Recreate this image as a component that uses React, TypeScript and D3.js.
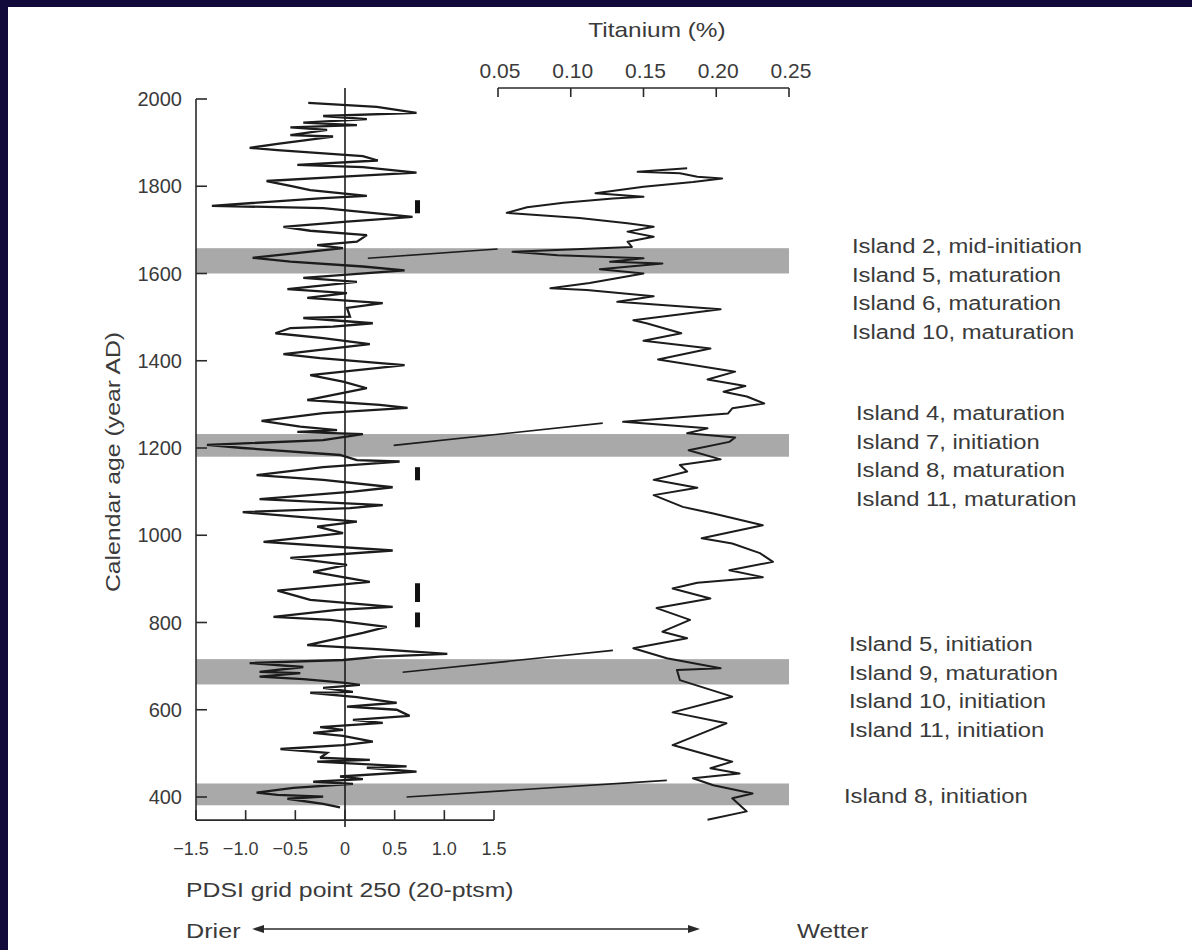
import React from "react";
import * as d3 from "d3";

const W = 1192;
const H = 950;

// PDSI grid point 250 (20-pt smoothed), year AD and value
const pdsiYears = [
  376, 384, 396, 401, 405, 410, 421, 430, 435, 441, 447, 458, 467, 470, 481, 485, 490, 501, 510, 519,
  527, 540, 547, 554, 560, 570, 577, 586, 600, 607, 616, 629, 639, 641, 650, 657, 662, 670, 676, 684,
  687, 698, 707, 714, 722, 728, 739, 748, 776, 790, 806, 813, 829, 836, 852, 873, 893, 916, 932, 948,
  965, 985, 1005, 1020, 1031, 1053, 1062, 1069, 1083, 1100, 1110, 1127, 1138, 1156, 1169, 1172, 1184, 1200, 1207, 1218,
  1232, 1237, 1241, 1249, 1262, 1280, 1292, 1299, 1310, 1337, 1352, 1367, 1390, 1406, 1415, 1438, 1452, 1463, 1475, 1478,
  1486, 1498, 1501, 1521, 1532, 1544, 1555, 1564, 1581, 1590, 1607, 1616, 1627, 1636, 1658, 1665, 1673, 1688, 1698, 1707,
  1719, 1730, 1750, 1755, 1773, 1778, 1791, 1801, 1812, 1822, 1831, 1844, 1849, 1859, 1869, 1883, 1888, 1897, 1914, 1917,
  1929, 1935, 1940, 1946, 1954, 1961, 1968, 1982, 1991,
];
const pdsiValues = [
  -0.05, -0.22, -0.58, -0.22, -0.68, -0.89, -0.52, 0.08, -0.32, 0.18, -0.05, 0.72, 0.22, 0.62, -0.28, 0.25, -0.25, -0.18, -0.65, -0.02,
  0.28, -0.02, -0.32, -0.02, -0.25, 0.38, 0.08, 0.65, 0.52, 0.02, 0.52, 0.12, -0.35, 0.08, -0.22, 0.15, -0.02, -0.42, -0.86, -0.45,
  -0.86, -0.42, -0.96, -0.02, 0.35, 1.03, 0.32, -0.38, 0.18, 0.42, -0.15, -0.72, -0.08, 0.48, -0.35, -0.68, 0.25, -0.32, 0.02, -0.55,
  0.48, -0.82, -0.02, -0.28, 0.12, -1.03, 0.05, 0.38, -0.86, 0.08, 0.48, -0.22, -0.89, -0.22, 0.55, 0.12, -0.05, -1.03, -1.39, -0.22,
  0.18, -0.48, -0.08, -0.45, -0.84, -0.22, 0.63, 0.35, -0.38, 0.22, -0.02, -0.35, 0.6, -0.25, -0.62, 0.25, -0.22, -0.7, -0.55, -0.12,
  0.28, -0.42, 0.05, 0.02, 0.38, -0.38, 0.02, -0.58, 0.12, -0.42, 0.6, 0.18, -0.55, -0.93, -0.02, -0.28, 0.12, 0.22, -0.35, -0.62,
  0.02, 0.68, -0.22, -1.34, -0.22, 0.22, -0.35, -0.55, -0.79, -0.02, 0.72, 0.18, -0.48, 0.33, 0.18, -0.68, -0.96, -0.68, -0.12, -0.55,
  -0.18, -0.55, 0.12, -0.42, 0.22, -0.22, 0.72, 0.32, -0.37,
];

// Titanium (%) record, year AD and value
const tiYears = [
  348, 367, 397, 408, 427, 443, 454, 466, 481, 519, 554, 569, 594, 630, 668, 691, 695, 718, 741, 764,
  779, 806, 833, 855, 878, 891, 904, 920, 939, 959, 981, 993, 1023, 1050, 1065, 1092, 1109, 1127, 1146, 1161,
  1174, 1195, 1214, 1224, 1234, 1245, 1260, 1279, 1291, 1302, 1318, 1329, 1342, 1357, 1375, 1390, 1403, 1428, 1446, 1463,
  1486, 1493, 1518, 1535, 1548, 1562, 1566, 1578, 1600, 1610, 1623, 1627, 1635, 1642, 1650, 1661, 1673, 1684, 1696, 1707,
  1715, 1727, 1739, 1752, 1762, 1772, 1776, 1784, 1799, 1810, 1818, 1822, 1830, 1833, 1841,
];
const tiValues = [
  0.194, 0.221, 0.211, 0.225, 0.198, 0.184, 0.216, 0.196, 0.211, 0.17, 0.196, 0.207, 0.17, 0.211, 0.175, 0.173, 0.203, 0.166, 0.143, 0.18,
  0.163, 0.182, 0.159, 0.196, 0.17, 0.187, 0.232, 0.209, 0.239, 0.23, 0.211, 0.19, 0.232, 0.198, 0.177, 0.157, 0.187, 0.157, 0.18, 0.175,
  0.203, 0.181, 0.209, 0.213, 0.18, 0.194, 0.136, 0.208, 0.211, 0.233, 0.221, 0.205, 0.22, 0.194, 0.213, 0.184, 0.16, 0.196, 0.15, 0.176,
  0.152, 0.143, 0.203, 0.132, 0.157, 0.111, 0.086, 0.113, 0.15, 0.12, 0.163, 0.127, 0.15, 0.091, 0.06, 0.142, 0.139, 0.157, 0.139, 0.157,
  0.139, 0.106, 0.056, 0.07, 0.095, 0.129, 0.15, 0.117, 0.15, 0.184, 0.204, 0.187, 0.175, 0.146, 0.18,
];

// Shaded event bands (years AD)
const bandStart = [381, 658, 1180, 1600];
const bandEnd = [431, 716, 1232, 1658];

// Connector lines: from PDSI (value, year) to titanium (value, year)
const linkPdsiValue = [0.23, 0.49, 0.58, 0.62];
const linkPdsiYear = [1635, 1206, 686, 400];
const linkTiValue = [0.0497, 0.122, 0.129, 0.166];
const linkTiYear = [1656, 1257, 736, 438];

// Short black markers (year ranges) at PDSI value
const markerPdsi = 0.73;
const markerFrom = [1738, 1126, 847, 789];
const markerTo = [1768, 1156, 890, 823];

// Axes
const yearTicks = [400, 600, 800, 1000, 1200, 1400, 1600, 1800, 2000];
const axisMinYear = 347;
const pdsiTicks = [-1.5, -1.0, -0.5, 0, 0.5, 1.0, 1.5];
const pdsiTickLabels = ["\u22121.5", "\u22121.0", "\u22120.5", "0", "0.5", "1.0", "1.5"];
const tiTicks = [0.05, 0.1, 0.15, 0.2, 0.25];
const tiTickLabels = ["0.05", "0.10", "0.15", "0.20", "0.25"];

// Island annotations
const islandGroups = [
  ["Island 2, mid-initiation", "Island 5, maturation", "Island 6, maturation", "Island 10, maturation"],
  ["Island 4, maturation", "Island 7, initiation", "Island 8, maturation", "Island 11, maturation"],
  ["Island 5, initiation", "Island 9, maturation", "Island 10, initiation", "Island 11, initiation"],
  ["Island 8, initiation"],
];
const islandGroupX = [852, 856, 849, 844];
const islandGroupBaseline = [253, 420, 651, 803];

const TEXT = "#3a3a3a";
const INK = "#1c1c1c";
const FONT = "'Liberation Sans', Arial, Helvetica, sans-serif";

function SText(props: {
  x: number;
  y: number;
  sx?: number;
  size?: number;
  anchor?: "start" | "middle" | "end";
  rotate?: number;
  children: React.ReactNode;
}) {
  const { x, y, sx = 1, size = 20, anchor = "start", rotate = 0, children } = props;
  const t = `translate(${x},${y})${rotate ? ` rotate(${rotate})` : ""} scale(${sx},1)`;
  return (
    <text transform={t} textAnchor={anchor} fontSize={size} fill={TEXT} fontFamily={FONT}>
      {children}
    </text>
  );
}

export default function App() {
  const y = d3.scaleLinear().domain([400, 2000]).range([797, 99]);
  const xP = d3.scaleLinear().domain([-1.5, 1.5]).range([196, 494]);
  const xT = d3.scaleLinear().domain([0.05, 0.25]).range([498, 789]);

  const pdsi: [number, number][] = pdsiYears.map((yr, i) => [yr, pdsiValues[i]]);
  const ti: [number, number][] = tiYears.map((yr, i) => [yr, tiValues[i]]);

  const lineP = d3
    .line<[number, number]>()
    .x((d) => xP(d[1]))
    .y((d) => y(d[0]));
  const lineT = d3
    .line<[number, number]>()
    .x((d) => xT(d[1]))
    .y((d) => y(d[0]));

  const axisLeft = xP(-1.5);
  const axisBottom = y(axisMinYear);
  const tiAxisY = y(2000) - 11;
  const bandRight = xT(0.25);

  return (
    <svg
      width={W}
      height={H}
      style={{ position: "absolute", left: 0, top: 0, display: "block" }}
    >
      <rect x={0} y={0} width={W} height={H} fill="#ffffff" />

      {/* shaded bands */}
      {bandStart.map((s, i) => (
        <rect
          key={`b${i}`}
          x={axisLeft}
          y={y(bandEnd[i])}
          width={bandRight - axisLeft}
          height={y(s) - y(bandEnd[i])}
          fill="#a9a9a9"
        />
      ))}

      {/* zero line */}
      <line x1={xP(0)} x2={xP(0)} y1={tiAxisY} y2={axisBottom + 7} stroke={INK} strokeWidth={1.6} />

      {/* left axis */}
      <line x1={axisLeft} x2={axisLeft} y1={y(2000)} y2={axisBottom} stroke="#2a2a2a" strokeWidth={1.6} />
      {yearTicks.map((t) => (
        <g key={`yt${t}`}>
          <line x1={axisLeft} x2={axisLeft + 11} y1={y(t)} y2={y(t)} stroke="#2a2a2a" strokeWidth={1.6} />
          <SText x={182} y={y(t) + 7} anchor="end" size={20}>
            {t}
          </SText>
        </g>
      ))}

      {/* bottom axis */}
      <line x1={axisLeft} x2={xP(1.5)} y1={axisBottom} y2={axisBottom} stroke="#2a2a2a" strokeWidth={1.6} />
      {pdsiTicks.map((t, i) => (
        <g key={`xt${i}`}>
          <line x1={xP(t)} x2={xP(t)} y1={axisBottom} y2={axisBottom - 10} stroke="#2a2a2a" strokeWidth={1.6} />
          <SText x={xP(t) - (t < 0 ? 5 : 0)} y={855} anchor="middle" size={19} sx={0.95}>
            {pdsiTickLabels[i]}
          </SText>
        </g>
      ))}

      {/* titanium axis */}
      <line x1={xT(0.05)} x2={xT(0.25)} y1={tiAxisY} y2={tiAxisY} stroke="#2a2a2a" strokeWidth={1.6} />
      {tiTicks.map((t, i) => (
        <g key={`tt${i}`}>
          <line x1={xT(t)} x2={xT(t)} y1={tiAxisY} y2={tiAxisY + 9} stroke="#2a2a2a" strokeWidth={1.6} />
          <SText x={xT(t) + 2} y={78} anchor="middle" size={20} sx={1.05}>
            {tiTickLabels[i]}
          </SText>
        </g>
      ))}
      <SText x={657} y={37} anchor="middle" size={20} sx={1.22}>
        Titanium (%)
      </SText>

      {/* series */}
      <path d={lineP(pdsi) || ""} fill="none" stroke={INK} strokeWidth={2.3} strokeLinejoin="miter" strokeMiterlimit={3} />
      <path d={lineT(ti) || ""} fill="none" stroke={INK} strokeWidth={2} strokeLinejoin="round" />

      {/* connectors */}
      {linkPdsiValue.map((v, i) => (
        <line
          key={`l${i}`}
          x1={xP(v)}
          y1={y(linkPdsiYear[i])}
          x2={xT(linkTiValue[i])}
          y2={y(linkTiYear[i])}
          stroke={INK}
          strokeWidth={1.6}
        />
      ))}

      {/* markers */}
      {markerFrom.map((f, i) => (
        <rect
          key={`m${i}`}
          x={xP(markerPdsi) - 2.5}
          y={y(markerTo[i])}
          width={5}
          height={y(f) - y(markerTo[i])}
          fill="#111"
        />
      ))}

      {/* island labels */}
      {islandGroups.map((g, gi) =>
        g.map((lab, li) => (
          <SText key={`is${gi}-${li}`} x={islandGroupX[gi]} y={islandGroupBaseline[gi] + li * 28.7} size={20} sx={1.19}>
            {lab}
          </SText>
        ))
      )}

      {/* axis titles */}
      <SText x={120} y={462} anchor="middle" size={21} sx={1.18} rotate={-90}>
        Calendar age (year AD)
      </SText>
      <SText x={186} y={897} size={21} sx={1.18}>
        PDSI  grid point 250 (20-ptsm)
      </SText>

      {/* drier / wetter */}
      <SText x={186} y={938} size={21} sx={1.2}>
        Drier
      </SText>
      <SText x={797} y={938} size={21} sx={1.16}>
        Wetter
      </SText>
      <line x1={258} x2={694} y1={929} y2={929} stroke="#2a2a2a" strokeWidth={1.6} />
      <path d="M252,929 L264,925 L264,933 Z" fill="#2a2a2a" />
      <path d="M700,929 L688,925 L688,933 Z" fill="#2a2a2a" />

      {/* frame */}
      <rect x={0} y={0} width={W} height={7} fill="#130a3c" />
      <rect x={0} y={0} width={8} height={H} fill="#130a3c" />
    </svg>
  );
}
